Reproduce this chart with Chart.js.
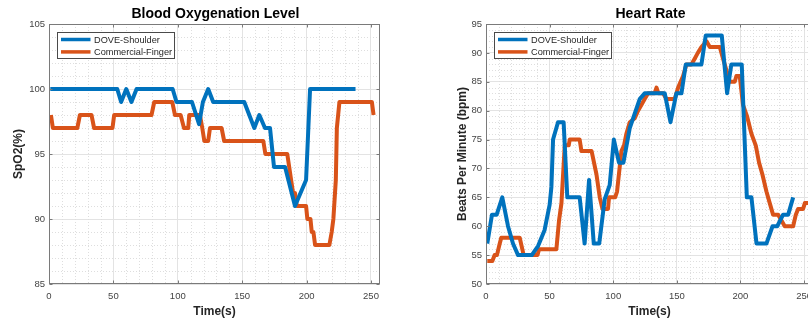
<!DOCTYPE html>
<html>
<head>
<meta charset="utf-8">
<title>Blood Oxygenation Level / Heart Rate</title>
<script src="https://cdn.jsdelivr.net/npm/chart.js@4.4.1/dist/chart.umd.min.js"></script>
<style>
  html, body { margin: 0; padding: 0; background: #fff; overflow: hidden; width: 808px; height: 324px; }
  .panel { position: absolute; top: 0; height: 324px; }
  #spo2Panel { left: 0; width: 400px; }
  #hrPanel { left: 400px; width: 430px; }
</style>
</head>
<body>
<div class="panel" id="spo2Panel"><canvas id="spo2Chart" width="400" height="324"></canvas></div>
<div class="panel" id="hrPanel"><canvas id="hrChart" width="430" height="324"></canvas></div>
<script>
// series names
const seriesLabels = ['DOVE-Shoulder', 'Commercial-Finger'];

// tick labels
const timeTicks = [0, 50, 100, 150, 200, 250];
const spo2Ticks = [85, 90, 95, 100, 105];
const hrTicks = [50, 55, 60, 65, 70, 75, 80, 85, 90, 95];

// SpO2 (%)
const spo2DoveTime = [1, 53, 56, 60, 64, 68, 96, 99, 111, 116.5, 119.5, 123.6, 127.5, 151.6, 159.4, 163.3, 167.7, 171.6, 174.7, 183.3, 191, 199.6, 202.7, 238];
const spo2DoveValues = [100, 100, 99, 100, 99, 100, 100, 99, 99, 97.3, 99, 100, 99, 99, 97, 98, 97, 97, 94, 94, 91, 93, 100, 100];

const spo2FingerTime = [1.5, 3, 22, 24, 33, 35, 49.3, 50.6, 79.6, 81.7, 95.7, 97.8, 102.2, 104.8, 108.1, 108.9, 117.2, 119, 120.6, 123.6, 125, 134, 136, 166.4, 168, 185, 186.5, 188, 189.5, 191, 192.4, 199.6, 200.6, 203, 204, 205.3, 206.6, 217.7, 219.5, 220.8, 222.7, 223.5, 225.5, 250.7, 252];
const spo2FingerValues = [98, 97, 97, 98, 98, 97, 97, 98, 98, 99, 99, 98, 98, 97, 97, 98, 98, 97, 96, 96, 97, 97, 96, 96, 95, 95, 94, 93, 92, 92, 91, 91, 90, 90, 89, 89, 88, 88, 89, 90, 93, 97, 99, 99, 98];

// heart rate (bpm)
const hrDoveTime = [1, 4.7, 8.4, 12.8, 17.3, 21.2, 25.2, 36, 41, 46, 50, 51.4, 52.7, 56.6, 61, 63.9, 73.6, 77.5, 81, 84.7, 89, 93.3, 97.2, 100.5, 104.5, 108, 113, 120.8, 124.7, 140.5, 145, 149.6, 153.6, 157, 169.3, 172.7, 185.3, 189.5, 192.8, 201, 205, 208.6, 212.6, 220.4, 225.2, 228.9, 233.5, 237.5, 241.4];
const hrDoveValues = [57, 62, 62, 65, 60, 57, 55, 55, 56.6, 59.3, 63.7, 66.8, 75, 78, 78, 65, 65, 57, 68, 57, 57, 64.7, 67.1, 75, 71, 71, 77, 82, 83, 83, 78, 83, 83, 88, 88, 93, 93, 83, 88, 88, 65, 65, 57, 57, 60, 60, 62, 62, 65];

const hrFingerTime = [1, 5, 6.8, 8.6, 10.8, 12, 26.5, 29.6, 40.5, 41.7, 55.3, 57.4, 59.3, 61.9, 65, 65.8, 73.6, 75, 83, 86.8, 89.4, 91.5, 95.9, 96.7, 101.5, 103, 105.1, 106.4, 108.5, 110.3, 113, 116.9, 119.5, 122.1, 124.7, 127.4, 132.5, 134, 135.5, 139.2, 141.8, 148.3, 151, 154.9, 157.5, 161.4, 164, 166.5, 169.3, 173.3, 175.9, 183.8, 186.3, 189, 191.6, 195.5, 196.8, 199.4, 202, 205.2, 208.6, 212, 214.6, 217.2, 220.4, 223, 225.6, 229.6, 232.2, 234.8, 241.4, 243.5, 245.3, 249.2, 250.6, 257];
const hrFingerValues = [54, 54, 55, 55, 57, 58, 58, 55, 55, 56, 56, 61, 64, 74, 74, 75, 75, 73, 73, 69, 65, 63, 63, 65, 65, 66, 70.3, 73, 74, 76, 78, 78.7, 80, 81, 82, 83, 83, 84, 83, 83, 82, 82, 84, 86, 88, 88, 89, 90, 91, 92, 91, 91, 89, 87, 85, 85, 86, 86, 81, 79, 76, 74, 71, 69, 66, 64, 62, 62, 61, 60, 60, 62, 63, 63, 64, 64];

const FONT = '"Liberation Sans", Arial, Helvetica, sans-serif';
const DOVE_BLUE = '#0072BD';
const FINGER_ORANGE = '#D95319';
const GRID = '#e3e3e3';
const MINOR_GRID = '#dedede';
const AXIS = '#7a7a7a';

const toPoints = (times, values) => times.map((t, i) => ({ x: t, y: values[i] }));

// minor dotted grid, box, inward tick marks and a title centred on the plot, like a matlab axes
const matlabAxes = {
  id: 'matlabAxes',
  beforeDatasetsDraw(chart, args, opts) {
    const { ctx, chartArea: a, scales: { x, y } } = chart;
    ctx.save();
    ctx.strokeStyle = MINOR_GRID;
    ctx.lineWidth = 1;
    ctx.setLineDash([1, 2]);
    ctx.beginPath();
    for (let v = x.min; v <= x.max; v += opts.xMinor) {
      if (x.ticks.some(t => t.value === v)) continue;
      const px = Math.round(x.getPixelForValue(v)) + 0.5;
      ctx.moveTo(px, a.top);
      ctx.lineTo(px, a.bottom);
    }
    for (let v = y.min; v <= y.max; v += opts.yMinor) {
      if (y.ticks.some(t => t.value === v)) continue;
      const py = Math.round(y.getPixelForValue(v)) + 0.5;
      ctx.moveTo(a.left, py);
      ctx.lineTo(a.right, py);
    }
    ctx.stroke();
    ctx.restore();
  },
  afterDatasetsDraw(chart, args, opts) {
    const { ctx, chartArea: a, scales: { x, y } } = chart;
    const L = Math.round(a.left) + 0.5, R = Math.round(a.right) - 0.5;
    const T = Math.round(a.top) + 0.5, B = Math.round(a.bottom) - 0.5;
    ctx.save();
    ctx.strokeStyle = AXIS;
    ctx.lineWidth = 1;
    ctx.strokeRect(L, T, R - L, B - T);
    ctx.beginPath();
    x.ticks.forEach(t => {
      const px = Math.round(x.getPixelForValue(t.value)) + 0.5;
      ctx.moveTo(px, B); ctx.lineTo(px, B - 3);
      ctx.moveTo(px, T); ctx.lineTo(px, T + 3);
    });
    y.ticks.forEach(t => {
      const py = Math.round(y.getPixelForValue(t.value)) + 0.5;
      ctx.moveTo(L, py); ctx.lineTo(L + 3, py);
      ctx.moveTo(R, py); ctx.lineTo(R - 3, py);
    });
    ctx.stroke();

    ctx.fillStyle = '#000';
    ctx.font = 'bold 14px ' + FONT;
    ctx.textAlign = 'center';
    ctx.textBaseline = 'middle';
    ctx.fillText(opts.title, (a.left + a.right) / 2 + 1, 14);
    ctx.restore();
  }
};

// legend box inside the top left corner of the plot
const boxLegend = {
  id: 'boxLegend',
  afterDatasetsDraw(chart, args, opts) {
    const { ctx, chartArea: a } = chart;
    const bx = Math.round(a.left + opts.left) + 0.5;
    const by = Math.round(a.top + opts.top) + 0.5;
    ctx.save();
    ctx.fillStyle = '#fff';
    ctx.fillRect(bx, by, opts.width, opts.height);
    ctx.strokeStyle = '#4a4a4a';
    ctx.lineWidth = 1;
    ctx.strokeRect(bx, by, opts.width, opts.height);
    ctx.font = '9.2px ' + FONT;
    ctx.textBaseline = 'middle';
    chart.data.datasets.forEach((ds, i) => {
      const ry = by + 7 + i * 12.4;
      ctx.strokeStyle = ds.borderColor;
      ctx.lineWidth = 3.5;
      ctx.beginPath();
      ctx.moveTo(bx + 3.5, ry);
      ctx.lineTo(bx + 33, ry);
      ctx.stroke();
      ctx.fillStyle = '#262626';
      ctx.fillText(ds.label, bx + 36.5, ry + 0.5);
    });
    ctx.restore();
  }
};

function makeChart(canvasId, cfg) {
  const tickFont = { family: FONT, size: 9.5 };
  const labelFont = { family: FONT, size: 12, weight: 'bold' };
  return new Chart(document.getElementById(canvasId), {
    type: 'line',
    data: {
      datasets: [
        { label: seriesLabels[0], data: toPoints(cfg.doveTime, cfg.doveValues), borderColor: DOVE_BLUE },
        { label: seriesLabels[1], data: toPoints(cfg.fingerTime, cfg.fingerValues), borderColor: FINGER_ORANGE }
      ]
    },
    plugins: [matlabAxes, boxLegend],
    options: {
      responsive: false,
      animation: false,
      layout: { padding: { left: 0, right: cfg.padRight, top: 24, bottom: 0 } },
      elements: {
        point: { radius: 0 },
        line: { borderWidth: 4, tension: 0, borderJoinStyle: 'round', fill: false }
      },
      plugins: {
        legend: { display: false },
        tooltip: { enabled: false },
        title: { display: false },
        matlabAxes: { xMinor: 10, yMinor: 1, title: cfg.title },
        boxLegend: { left: 8, top: 8, width: 117, height: 26 }
      },
      scales: {
        x: {
          type: 'linear',
          min: 0,
          max: cfg.xMax,
          afterBuildTicks: s => { s.ticks = timeTicks.map(v => ({ value: v })); },
          afterFit: s => { s.height = 40; },
          ticks: { color: '#444', font: tickFont, padding: 7, maxRotation: 0, autoSkip: false },
          grid: { color: GRID, drawTicks: false },
          border: { display: false },
          title: { display: true, text: 'Time(s)', color: '#262626', font: labelFont, padding: { top: 0, bottom: 5 } }
        },
        y: {
          min: cfg.yMin,
          max: cfg.yMax,
          afterBuildTicks: s => { s.ticks = cfg.yTicks.map(v => ({ value: v })); },
          afterFit: s => { s.width = cfg.yAxisWidth; },
          ticks: { color: '#444', font: tickFont, padding: 4, autoSkip: false },
          grid: { color: GRID, drawTicks: false },
          border: { display: false },
          title: { display: true, text: cfg.yTitle, color: '#262626', font: labelFont, padding: { top: cfg.yTitlePad, bottom: 0 } }
        }
      }
    }
  });
}

makeChart('spo2Chart', {
  title: 'Blood Oxygenation Level',
  yTitle: 'SpO2(%)',
  doveTime: spo2DoveTime, doveValues: spo2DoveValues,
  fingerTime: spo2FingerTime, fingerValues: spo2FingerValues,
  yMin: 85, yMax: 105, yTicks: spo2Ticks,
  xMax: 257,
  yAxisWidth: 49,
  yTitlePad: 11,
  padRight: 20
});

makeChart('hrChart', {
  title: 'Heart Rate',
  yTitle: 'Beats Per Minute (bpm)',
  doveTime: hrDoveTime, doveValues: hrDoveValues,
  fingerTime: hrFingerTime, fingerValues: hrFingerValues,
  yMin: 50, yMax: 95, yTicks: hrTicks,
  xMax: 257,
  yAxisWidth: 86,
  yTitlePad: 55,
  padRight: 17
});
</script>
</body>
</html>
